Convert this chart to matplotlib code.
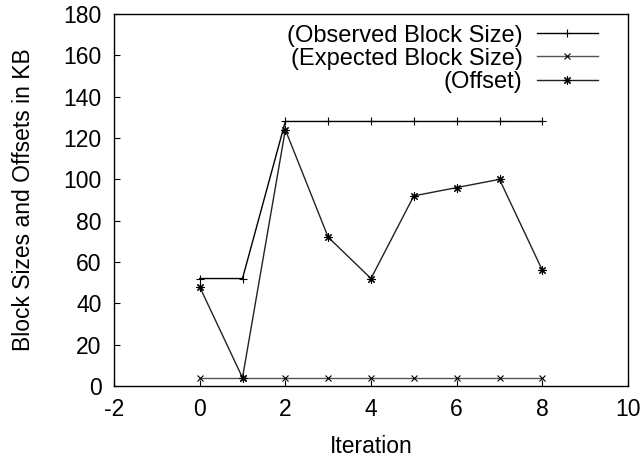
import matplotlib
matplotlib.use('Agg')
import matplotlib.pyplot as plt
import numpy as np

plt.rcParams['font.family'] = ['Liberation Sans', 'DejaVu Sans']
plt.rcParams['font.size'] = 16.5
plt.rcParams['axes.unicode_minus'] = False

iteration = [0, 1, 2, 3, 4, 5, 6, 7, 8]
observed = [52, 52, 128, 128, 128, 128, 128, 128, 128]
expected = [4, 4, 4, 4, 4, 4, 4, 4, 4]
offset = [48, 4, 124, 72, 52, 92, 96, 100, 56]

fig = plt.figure(figsize=(6.44, 4.58), dpi=100)
ax = fig.add_axes([114/644, 1 - 386/458, (628 - 114)/644, (386 - 14)/458])

ax.plot(iteration, observed, color='black', lw=1, marker='+', ms=6, mew=0.8,
        label='(Observed Block Size)')
ax.plot(iteration, expected, color='#555555', lw=1, marker='x', ms=4.5, mew=0.8,
        markeredgecolor='black', label='(Expected Block Size)')
ax.plot(iteration, offset, color='#222222', lw=1, marker=(8, 2, 0), ms=6, mew=0.8,
        markeredgecolor='black', label='(Offset)')

ax.set_xlim(-2, 10)
ax.set_ylim(0, 180)
ax.set_xticks(np.arange(-2, 11, 2))
ax.set_yticks(np.arange(0, 181, 20))
ax.tick_params(direction='in', length=4.5, width=0.8, top=False, right=False)
ax.tick_params(axis='y', pad=9)
ax.tick_params(axis='x', pad=9)
for s in ax.spines.values():
    s.set_linewidth(1)

ax.set_xlabel('Iteration', labelpad=10)
ax.set_ylabel('Block Sizes and Offsets in KB', labelpad=20)

ax.legend(loc='upper right', frameon=False, markerfirst=False, numpoints=1,
          fontsize=17, handlelength=2.6, handletextpad=0.6, labelspacing=0.05,
          borderaxespad=0.0, bbox_to_anchor=(0.96, 0.997))

fig.savefig('out.png', dpi=100)
